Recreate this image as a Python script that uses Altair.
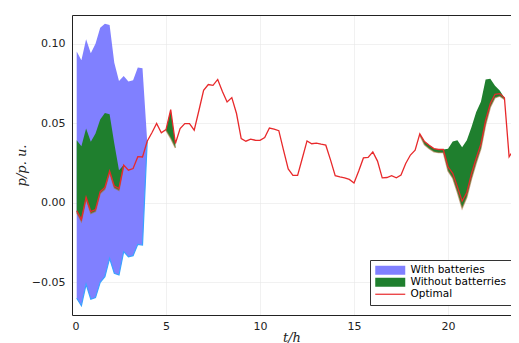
import altair as alt
import pandas as pd

# time axis (hours), 15-minute steps
t = [0.25 * i for i in range(1, 96)]  # 0.25 .. 23.75

optimal = [
    -0.0050, -0.0105, 0.0035, -0.0055, -0.0042, 0.0070, 0.0097, 0.0200,
    0.0105, 0.0090, 0.0237, 0.0205, 0.0215, 0.0290, 0.0288, 0.0387,
    0.0440, 0.0498, 0.0440, 0.0460, 0.0586, 0.0373, 0.0467, 0.0498,
    0.0498, 0.0456, 0.0580, 0.0707, 0.0743, 0.0738, 0.0775, 0.0700,
    0.0634, 0.0661, 0.0561, 0.0404, 0.0387, 0.0400, 0.0393, 0.0392,
    0.0410, 0.0470, 0.0463, 0.0453, 0.0331, 0.0213, 0.0172, 0.0172,
    0.0280, 0.0389, 0.0371, 0.0375, 0.0368, 0.0362, 0.0270, 0.0170,
    0.0163, 0.0157, 0.0147, 0.0125, 0.0200, 0.0282, 0.0285, 0.0320,
    0.0262, 0.0157, 0.0159, 0.0170, 0.0157, 0.0174, 0.0247, 0.0300,
    0.0330, 0.0433, 0.0385, 0.0362, 0.0341, 0.0335, 0.0335, 0.0226,
    0.0185, 0.0100, 0.0010, 0.0064, 0.0184, 0.0280, 0.0370, 0.0520,
    0.0624, 0.0682, 0.0686, 0.0660, 0.0289, 0.0335, 0.0380,
]

# "With batteries" band (t = 0.25 .. 4.0)
bat_t = [0.25 * i for i in range(1, 17)]
bat_hi = [0.0950, 0.0895, 0.1027, 0.0939, 0.1000, 0.1100, 0.1125, 0.1117,
          0.0880, 0.0765, 0.0797, 0.0762, 0.0770, 0.0850, 0.0845, 0.0387]
bat_lo = [-0.0600, -0.0646, -0.0512, -0.0606, -0.0596, -0.0500, -0.0464, -0.0349,
          -0.0443, -0.0454, -0.0307, -0.0339, -0.0332, -0.0261, -0.0265, 0.0387]

# "Without batterries" band, three segments
nb_seg = [1] * 11 + [2] * 3 + [3] * 19
nb_t = ([0.25 * i for i in range(1, 12)] + [5.0, 5.25, 5.5]
        + [18.5 + 0.25 * i for i in range(19)])
nb_hi = [0.0393, 0.0356, 0.0467, 0.0383, 0.0435, 0.0523, 0.0565, 0.0556, 0.0373, 0.0205, 0.0237,
         0.0460, 0.0586, 0.0373,
         0.0433, 0.0385, 0.0362, 0.0341, 0.0335, 0.0335, 0.0340, 0.0385, 0.0393, 0.0349,
         0.0393, 0.0477, 0.0570, 0.0635, 0.0775, 0.0780, 0.0735, 0.0705, 0.0660]
nb_lo = [-0.0062, -0.0117, 0.0023, -0.0067, -0.0054, 0.0058, 0.0085, 0.0188, 0.0093, 0.0078, 0.0230,
         0.0455, 0.0405, 0.0345,
         0.0425, 0.0365, 0.0340, 0.0320, 0.0315, 0.0315, 0.0200, 0.0155, 0.0065, -0.0035,
         0.0035, 0.0150, 0.0250, 0.0340, 0.0490, 0.0600, 0.0660, 0.0670, 0.0650]

series = ["With batteries", "Without batterries", "Optimal"]
colors = ["#8080ff", "#1f7f2e", "#e8292b"]
shapes = ["M-1,-0.9H5V0.9H-1Z", "M-1,-0.9H5V0.9H-1Z", "M-1,-0.12H5V0.12H-1Z"]

df_opt = pd.DataFrame({"t": t, "v": optimal})
df_bat = pd.DataFrame({"t": bat_t, "hi": bat_hi, "lo": bat_lo})
df_nb = pd.DataFrame({"t": nb_t, "hi": nb_hi, "lo": nb_lo, "seg": nb_seg})
df_leg = pd.DataFrame({"series": series, "t": [-5.0] * 3, "v": [0.0] * 3})

# the visible window ends at the page edge, a little before t = 23.75
xscale = alt.Scale(domain=[0, 23.35], nice=False, zero=False)
yscale = alt.Scale(domain=[-0.0705, 0.118], nice=False, zero=False)

xaxis = alt.Axis(values=[0, 5, 10, 15, 20], format="d", title="t/h", grid=True,
                 ticks=False, labelPadding=5, titleFont="DejaVu Serif",
                 titleFontStyle="italic", titleFontWeight="normal", titleFontSize=13,
                 titlePadding=0)
yaxis = alt.Axis(values=[-0.05, 0.0, 0.05, 0.10], format=".2f", title="p/p. u.", grid=True,
                 ticks=False, labelPadding=7, titleFont="DejaVu Serif",
                 titleFontStyle="italic", titleFontWeight="normal", titleFontSize=13,
                 titlePadding=3)
top_axis = alt.Axis(orient="top", labels=False, ticks=False, grid=False, title=None,
                    domain=True)

bat_area = alt.Chart(df_bat).mark_area(color="#8080ff", opacity=1, clip=True).encode(
    x=alt.X("t:Q", scale=xscale, axis=xaxis),
    y=alt.Y("lo:Q", scale=yscale, axis=yaxis),
    y2="hi:Q",
)
bat_edge = alt.Chart(df_bat).mark_line(color="#3aa2ff", strokeWidth=1.2, clip=True).encode(
    x=alt.X("t:Q", axis=None), y="lo:Q"
)
nb_area = alt.Chart(df_nb).mark_area(color="#1f7f2e", opacity=1, clip=True).encode(
    x=alt.X("t:Q", axis=None), y="lo:Q", y2="hi:Q", detail="seg:N"
)
nb_edge = alt.Chart(df_nb).mark_line(color="#a8703c", strokeWidth=1.4, opacity=0.6,
                                     clip=True).encode(
    x=alt.X("t:Q", axis=None), y="lo:Q", detail="seg:N"
)
opt_line = alt.Chart(df_opt).mark_line(color="#e8292b", strokeWidth=1.3, clip=True).encode(
    x=alt.X("t:Q", axis=None), y="v:Q"
)

leg = alt.Legend(title=None, orient="none", legendX=298, legendY=245,
                 fillColor="white", strokeColor="#333333", padding=5,
                 labelFont="DejaVu Sans", labelFontSize=10.5, labelColor="black",
                 labelOffset=25, symbolSize=100, symbolStrokeWidth=0,
                 rowPadding=1, symbolOpacity=1)
legend_layer = alt.Chart(df_leg).mark_point(filled=True, clip=True, size=100).encode(
    x=alt.X("t:Q", axis=top_axis), y="v:Q",
    color=alt.Color("series:N", scale=alt.Scale(domain=series, range=colors), legend=leg),
    shape=alt.Shape("series:N", scale=alt.Scale(domain=series, range=shapes), legend=leg),
)

chart = alt.layer(bat_area, bat_edge, nb_area, nb_edge, opt_line, legend_layer).resolve_axis(
    x="independent"
).properties(
    width=439, height=300,
    autosize=alt.AutoSizeParams(type="none"),
    padding={"left": 64, "top": 7, "right": 0, "bottom": 28},
).configure_view(
    stroke=None
).configure_axis(
    labelFont="DejaVu Sans", labelFontSize=11, labelColor="#222222",
    gridColor="#e8e8e8", gridWidth=0.6, domainColor="#222222", domainWidth=1,
    titleColor="#222222",
)

chart.save("out.html", embed_options={"renderer": "svg", "actions": False})
